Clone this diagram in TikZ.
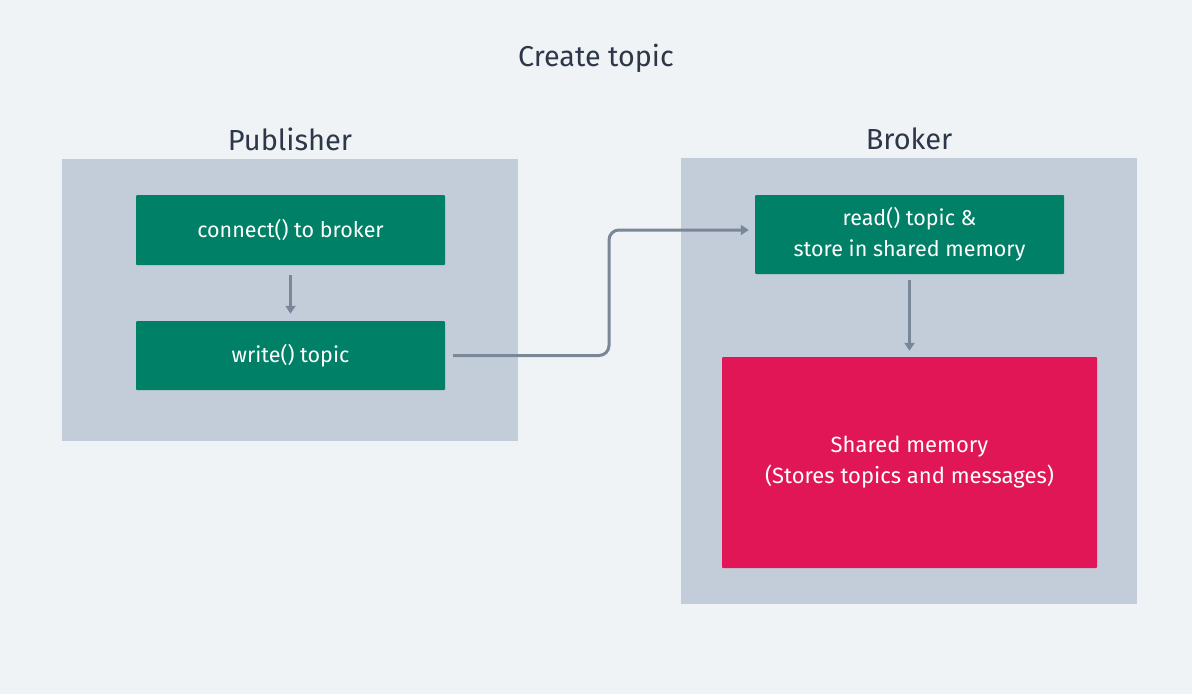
\documentclass[tikz,border=0pt]{standalone}
\usepackage{fontspec}
\setmainfont{Fira Sans}
\usetikzlibrary{arrows.meta}
\definecolor{bg}{HTML}{EFF3F6}
\definecolor{grp}{HTML}{C2CDD9}
\definecolor{grn}{HTML}{008066}
\definecolor{rd}{HTML}{E01657}
\definecolor{arr}{HTML}{7A8798}
\definecolor{ttl}{HTML}{2D3748}
\tikzset{
  group/.style={fill=grp, draw=none},
  gbox/.style={fill=grn, draw=none, rounded corners=1pt, text=white, font=\fontsize{21.5}{31}\selectfont, align=center, inner sep=0pt},
  rbox/.style={fill=rd, draw=none, rounded corners=1pt, text=white, font=\fontsize{22}{31}\selectfont, align=center, inner sep=0pt},
  conn/.style={draw=arr, line width=3pt, -{Triangle[length=8pt,width=10pt]}},
  glabel/.style={text=ttl, font=\fontsize{29}{32}\selectfont},
}
\begin{document}
\begin{tikzpicture}[x=1pt,y=-1pt]
\fill[bg] (0,0) rectangle (1192,694);
\useasboundingbox (0,0) rectangle (1192,694);
\node[text=ttl, font=\fontsize{28.7}{32}\selectfont] (title) at (596,58) {Create topic};
\node[group, minimum width=456pt, minimum height=282pt] (pub) at (290,300) {};
\node[group, minimum width=456pt, minimum height=446pt] (brk) at (909,381) {};
\node[glabel] (publbl) at (290,139) {Publisher};
\node[glabel] (brklbl) at (909,139) {Broker};
\node[gbox, minimum width=309pt, minimum height=70pt] (conn) at (290.5,230) {connect() to broker};
\node[gbox, minimum width=309pt, minimum height=69pt] (write) at (290.5,355.5) {write() topic};
\node[gbox, minimum width=309pt, minimum height=79pt] (read) at (909.5,234.5) {read() topic \&\\store in shared memory};
\node[rbox, minimum width=375pt, minimum height=211pt] (shm) at (909.5,462.5) {Shared memory\\(Stores topics and messages)};
\draw[conn] ([yshift=-10pt]conn.south) -- ([yshift=7pt]write.north);
\draw[conn, rounded corners=10pt] ([xshift=8pt]write.east) -- (609,355.5) -- (609,230) -- ([xshift=-6pt]read.west |- 0,230);
\draw[conn] ([yshift=-6pt]read.south) -- ([yshift=6pt]shm.north);
\end{tikzpicture}
\end{document}
